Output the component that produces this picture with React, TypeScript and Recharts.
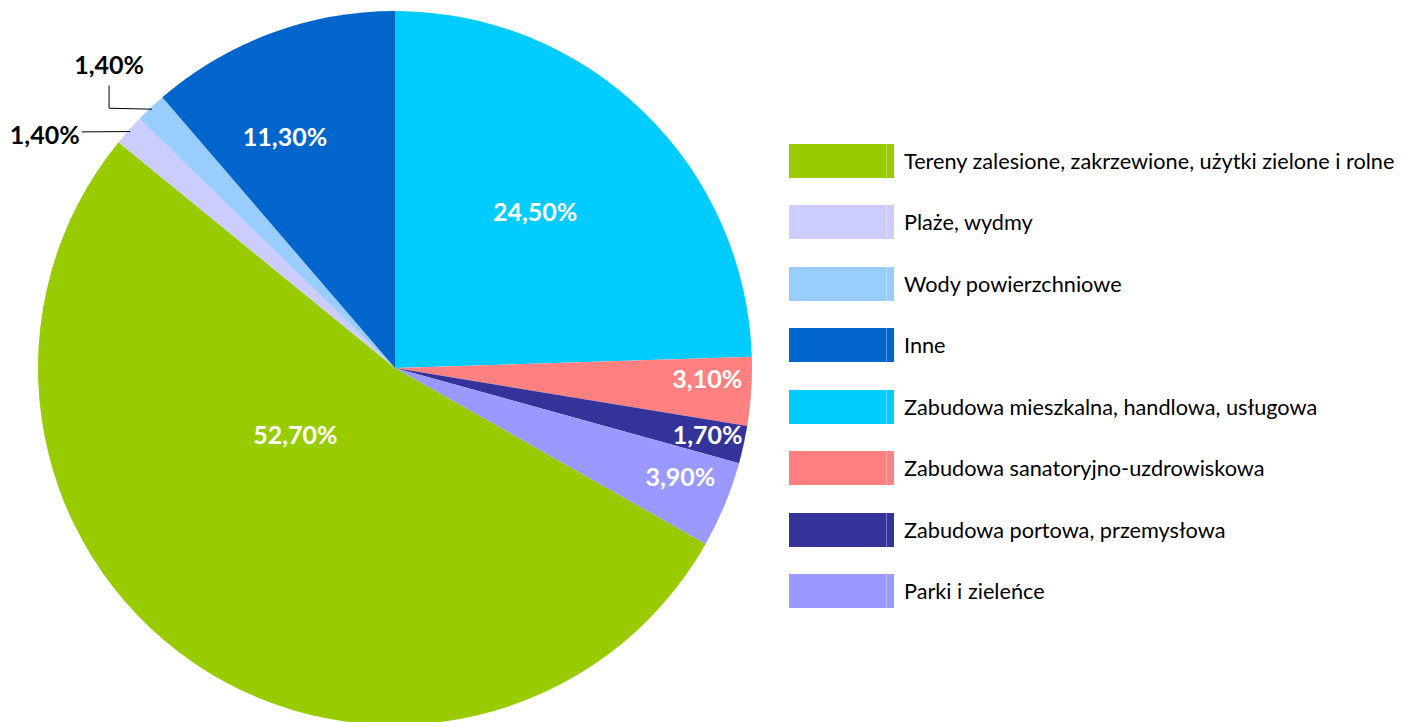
import React, { useEffect } from 'react';
import { PieChart, Pie, Cell, Legend } from 'recharts';

// values in legend order (Excel rotates the first slice to ~240°)
const categories = [
  'Tereny zalesione, zakrzewione, użytki zielone i rolne',
  'Plaże, wydmy',
  'Wody powierzchniowe',
  'Inne',
  'Zabudowa mieszkalna, handlowa, usługowa',
  'Zabudowa sanatoryjno-uzdrowiskowa',
  'Zabudowa portowa, przemysłowa',
  'Parki i zieleńce',
];
const shares = [52.7, 1.4, 1.4, 11.3, 24.5, 3.1, 1.7, 3.9];
const colors = ['#99CC00', '#CCCCFF', '#99CCFF', '#0066CC', '#00CCFF', '#FF8080', '#333399', '#9999FF'];

// label placement: [radius as fraction of outer radius, angle shift from slice middle]
const labelPlacement: [number, number][] = [
  [0.335, -22],
  [1.18, 8],
  [1.17, 0],
  [0.72, 5],
  [0.59, 2.4],
  [0.875, 2],
  [0.895, 0.5],
  [0.855, 1.7],
];
const outsideLabels = [1, 2];

const data = categories.map((name, i) => ({ name, value: shares[i], color: colors[i] }));

const W = 1418;
const H = 722;
const CX = 395;
const CY = 368;
const R = 357;
// first slice (green) starts ~30° below the 3 o'clock line, going clockwise
const START = -29.52;

const fmt = (v: number) => v.toFixed(2).replace('.', ',') + '%';
const RAD = Math.PI / 180;

const renderLabel = (props: any) => {
  const { cx, cy, midAngle, outerRadius, index, value } = props;
  const [rf, shift] = labelPlacement[index];
  const a = (midAngle + shift) * RAD;
  const x = cx + outerRadius * rf * Math.cos(a);
  const y = cy - outerRadius * rf * Math.sin(a);
  const outside = outsideLabels.includes(index);
  let leader = null;
  if (outside) {
    const m = midAngle * RAD;
    const ex = cx + (outerRadius - 2) * Math.cos(m);
    const ey = cy - (outerRadius - 2) * Math.sin(m);
    const pts =
      index === 2
        ? `${ex},${ey} ${x},${ey - 1} ${x},${y + 22}`
        : `${ex},${ey} ${x + 37},${y - 2}`;
    leader = <polyline points={pts} fill="none" stroke="#000" strokeWidth={1} />;
  }
  return (
    <g>
      {leader}
      <text
        x={x}
        y={y}
        fill={outside ? '#000' : '#fff'}
        textAnchor="middle"
        dominantBaseline="central"
        fontFamily="Lato, sans-serif"
        fontWeight={700}
        fontSize={25}
      >
        {fmt(value)}
      </text>
    </g>
  );
};

const renderLegend = () => (
  <div style={{ fontFamily: 'Lato, sans-serif', fontSize: 21.7, color: '#000' }}>
    {data.map((d) => (
      <div key={d.name} style={{ display: 'flex', alignItems: 'center', height: 61.5 }}>
        <div style={{ position: 'relative', width: 105, height: 34, background: d.color, flexShrink: 0 }}>
          <div style={{ position: 'absolute', left: 97, top: 0, width: 1, height: 34, background: 'rgba(255,255,255,0.35)' }} />
        </div>
        <span style={{ marginLeft: 10, whiteSpace: 'nowrap' }}>{d.name}</span>
      </div>
    ))}
  </div>
);

export default function App() {
  useEffect(() => {
    document.body.style.margin = '0';
  }, []);
  return (
    <div style={{ width: W, height: H, background: '#fff' }}>
      <PieChart width={W} height={H} margin={{ top: 0, right: 0, bottom: 0, left: 0 }}>
        <Pie
          data={data}
          dataKey="value"
          nameKey="name"
          cx={CX}
          cy={CY}
          outerRadius={R}
          startAngle={START}
          endAngle={START - 360}
          stroke="none"
          label={renderLabel}
          labelLine={false}
          isAnimationActive={false}
        >
          {data.map((d) => (
            <Cell key={d.name} fill={d.color} />
          ))}
        </Pie>
        <Legend
          layout="vertical"
          align="right"
          verticalAlign="top"
          content={renderLegend}
          wrapperStyle={{ left: 789, top: 130, width: 629 }}
        />
      </PieChart>
    </div>
  );
}
